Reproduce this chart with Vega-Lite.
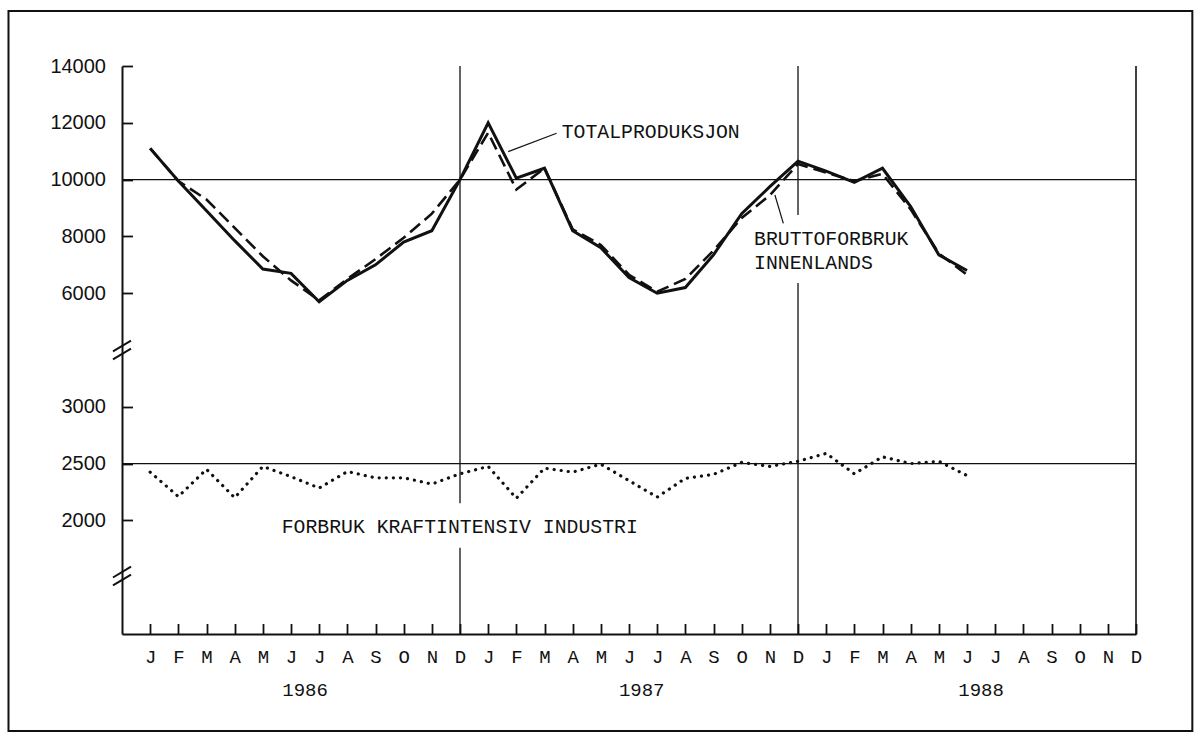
{
  "$schema": "https://vega.github.io/schema/vega-lite/v6.json",
  "width": 1014,
  "height": 568,
  "autosize": {"type": "none"},
  "padding": {"left": 122, "top": 66, "right": 58, "bottom": 105},
  "background": "white",
  "config": {
    "view": {"stroke": null},
    "axis": {"domainColor": "#111", "tickColor": "#111", "labelColor": "#111", "grid": false},
    "axisX": {"tickCount": 36, "labelOverlap": false, "labelFlush": false, "tickSize": -10.5, "labelPadding": 23.5, "tickWidth": 1.8, "domainWidth": 2, "labelFont": "Liberation Mono", "labelFontSize": 19}
  },
  "datasets": {
    "months": [
      {"i": 0, "total": 11100, "brutto": 11100, "industri": 2425},
      {"i": 1, "total": 9950, "brutto": 9950, "industri": 2210},
      {"i": 2, "total": 8900, "brutto": 9300, "industri": 2450},
      {"i": 3, "total": 7850, "brutto": 8300, "industri": 2200},
      {"i": 4, "total": 6850, "brutto": 7300, "industri": 2475},
      {"i": 5, "total": 6700, "brutto": 6450, "industri": 2385},
      {"i": 6, "total": 5700, "brutto": 5750, "industri": 2285},
      {"i": 7, "total": 6450, "brutto": 6500, "industri": 2430},
      {"i": 8, "total": 7000, "brutto": 7200, "industri": 2375},
      {"i": 9, "total": 7800, "brutto": 7950, "industri": 2375},
      {"i": 10, "total": 8200, "brutto": 8800, "industri": 2320},
      {"i": 11, "total": 10000, "brutto": 10000, "industri": 2410},
      {"i": 12, "total": 12000, "brutto": 11650, "industri": 2475},
      {"i": 13, "total": 10050, "brutto": 9650, "industri": 2195},
      {"i": 14, "total": 10400, "brutto": 10400, "industri": 2460},
      {"i": 15, "total": 8200, "brutto": 8250, "industri": 2425},
      {"i": 16, "total": 7600, "brutto": 7700, "industri": 2495},
      {"i": 17, "total": 6550, "brutto": 6650, "industri": 2350},
      {"i": 18, "total": 6000, "brutto": 6050, "industri": 2205},
      {"i": 19, "total": 6200, "brutto": 6500, "industri": 2370},
      {"i": 20, "total": 7350, "brutto": 7500, "industri": 2405},
      {"i": 21, "total": 8800, "brutto": 8650, "industri": 2510},
      {"i": 22, "total": 9750, "brutto": 9450, "industri": 2475},
      {"i": 23, "total": 10650, "brutto": 10550, "industri": 2520},
      {"i": 24, "total": 10300, "brutto": 10250, "industri": 2590},
      {"i": 25, "total": 9900, "brutto": 9950, "industri": 2410},
      {"i": 26, "total": 10400, "brutto": 10200, "industri": 2560},
      {"i": 27, "total": 9050, "brutto": 8950, "industri": 2500},
      {"i": 28, "total": 7350, "brutto": 7400, "industri": 2520},
      {"i": 29, "total": 6800, "brutto": 6650, "industri": 2395}
    ]
  },
  "layer": [
    {
      "layer": [
        {
          "data": {"name": "months"},
          "mark": {"type": "line", "stroke": "#111", "strokeWidth": 2.6, "strokeDash": [13, 6]},
          "encoding": {
            "x": {
              "field": "i", "type": "quantitative",
              "scale": {"domain": [-1, 35], "nice": false, "zero": false},
              "axis": {
                "title": null,
                "values": [0,1,2,3,4,5,6,7,8,9,10,11,12,13,14,15,16,17,18,19,20,21,22,23,24,25,26,27,28,29,30,31,32,33,34,35],
                "labelExpr": "substring('JFMAMJJASOND', datum.value % 12, datum.value % 12 + 1)",
                "tickSize": -10.5, "tickWidth": 1.8, "domainWidth": 2,
                "labelPadding": 23.5, "labelFont": "Liberation Mono", "labelFontSize": 19,
                "labelAngle": 0, "labelFlush": false, "labelOverlap": false, "grid": false
              }
            },
            "y": {
              "field": "brutto", "type": "quantitative",
              "scale": {"domain": [-6000, 14000], "nice": false, "zero": false},
              "axis": {
                "title": null,
                "orient": "left",
                "values": [6000, 8000, 10000, 12000, 14000],
                "format": "d",
                "tickSize": -10.5, "tickWidth": 1.8, "domainWidth": 2,
                "labelPadding": 27, "labelFont": "Liberation Sans", "labelFontSize": 20,
                "labelFlush": false, "labelOverlap": false, "grid": false
              }
            }
          }
        },
        {
          "data": {"values": [{}]},
          "mark": {"type": "rect", "filled": false, "stroke": "#111", "strokeWidth": 2, "clip": false},
          "encoding": {
            "x": {"datum": -5.03, "type": "quantitative"},
            "x2": {"datum": 37.0},
            "y": {"datum": 15937, "type": "quantitative"},
            "y2": {"datum": -9415}
          }
        },
        {
          "data": {"values": [{}]},
          "mark": {"type": "rule", "stroke": "#111", "strokeWidth": 1.3},
          "encoding": {"y": {"datum": 10000, "type": "quantitative"}}
        },
        {
          "data": {"values": [{}]},
          "mark": {"type": "rule", "stroke": "#111", "strokeWidth": 1.3},
          "encoding": {
            "x": {"datum": 23, "type": "quantitative"},
            "y": {"datum": 14000, "type": "quantitative"},
            "y2": {"datum": 8754}
          }
        },
        {
          "data": {"values": [{}]},
          "mark": {"type": "rule", "stroke": "#111", "strokeWidth": 1.3},
          "encoding": {
            "x": {"datum": 23, "type": "quantitative"},
            "y": {"datum": 6359, "type": "quantitative"},
            "y2": {"datum": -6000}
          }
        },
        {
          "data": {"values": [{}]},
          "mark": {"type": "rule", "stroke": "#111", "strokeWidth": 1.6},
          "encoding": {"x": {"datum": 35, "type": "quantitative"}}
        },
        {
          "data": {"name": "months"},
          "mark": {"type": "line", "stroke": "#111", "strokeWidth": 3},
          "encoding": {
            "x": {"field": "i", "type": "quantitative"},
            "y": {"field": "total", "type": "quantitative"}
          }
        },
        {
          "data": {"values": [{}]},
          "mark": {"type": "text", "text": "TOTALPRODUKSJON", "font": "Liberation Mono", "fontSize": 19.8, "align": "left", "baseline": "middle", "color": "#111"},
          "encoding": {
            "x": {"datum": 14.61, "type": "quantitative"},
            "y": {"datum": 11687, "type": "quantitative"}
          }
        },
        {
          "data": {"values": [{}]},
          "mark": {"type": "text", "text": "BRUTTOFORBRUK", "font": "Liberation Mono", "fontSize": 19.8, "align": "left", "baseline": "middle", "color": "#111"},
          "encoding": {
            "x": {"datum": 21.44, "type": "quantitative"},
            "y": {"datum": 7898, "type": "quantitative"}
          }
        },
        {
          "data": {"values": [{}]},
          "mark": {"type": "text", "text": "INNENLANDS", "font": "Liberation Mono", "fontSize": 19.8, "align": "left", "baseline": "middle", "color": "#111"},
          "encoding": {
            "x": {"datum": 21.44, "type": "quantitative"},
            "y": {"datum": 7053, "type": "quantitative"}
          }
        },
        {
          "data": {"values": [{}]},
          "mark": {"type": "rule", "stroke": "#111", "strokeWidth": 1.2},
          "encoding": {
            "x": {"datum": 12.71, "type": "quantitative"},
            "x2": {"datum": 14.43},
            "y": {"datum": 10983, "type": "quantitative"},
            "y2": {"datum": 11630}
          }
        },
        {
          "data": {"values": [{}]},
          "mark": {"type": "rule", "stroke": "#111", "strokeWidth": 1.2},
          "encoding": {
            "x": {"datum": 22.18, "type": "quantitative"},
            "x2": {"datum": 22.48},
            "y": {"datum": 9458, "type": "quantitative"},
            "y2": {"datum": 8461}
          }
        },
        {
          "data": {"values": [{"year": "1986", "m": 5.5}, {"year": "1987", "m": 17.45}, {"year": "1988", "m": 29.5}]},
          "mark": {"type": "text", "font": "Liberation Mono", "fontSize": 19, "align": "center", "baseline": "middle", "dy": 56, "color": "#111", "clip": false},
          "encoding": {
            "x": {"field": "m", "type": "quantitative"},
            "y": {"datum": -6000, "type": "quantitative"},
            "text": {"field": "year"}
          }
        },
        {
          "data": {"values": [{}]},
          "mark": {"type": "rule", "stroke": "#111", "strokeWidth": 2, "clip": false},
          "encoding": {
            "x": {"datum": -1.32, "type": "quantitative"},
            "x2": {"datum": -0.68},
            "y": {"datum": 3950, "type": "quantitative"},
            "y2": {"datum": 4330}
          }
        },
        {
          "data": {"values": [{}]},
          "mark": {"type": "rule", "stroke": "#111", "strokeWidth": 2, "clip": false},
          "encoding": {
            "x": {"datum": -1.32, "type": "quantitative"},
            "x2": {"datum": -0.68},
            "y": {"datum": 3670, "type": "quantitative"},
            "y2": {"datum": 4050}
          }
        },
        {
          "data": {"values": [{}]},
          "mark": {"type": "rule", "stroke": "#111", "strokeWidth": 2, "clip": false},
          "encoding": {
            "x": {"datum": -1.32, "type": "quantitative"},
            "x2": {"datum": -0.68},
            "y": {"datum": -4010, "type": "quantitative"},
            "y2": {"datum": -3630}
          }
        },
        {
          "data": {"values": [{}]},
          "mark": {"type": "rule", "stroke": "#111", "strokeWidth": 2, "clip": false},
          "encoding": {
            "x": {"datum": -1.32, "type": "quantitative"},
            "x2": {"datum": -0.68},
            "y": {"datum": -4290, "type": "quantitative"},
            "y2": {"datum": -3910}
          }
        }
      ]
    },
    {
      "layer": [
        {
          "data": {"name": "months"},
          "mark": {"type": "line", "stroke": "#111", "strokeWidth": 3.2, "strokeDash": [0.1, 7], "strokeCap": "round"},
          "encoding": {
            "x": {
              "field": "i", "type": "quantitative",
              "scale": {"domain": [-1, 35], "nice": false, "zero": false},
              "axis": {
                "title": null,
                "values": [0,1,2,3,4,5,6,7,8,9,10,11,12,13,14,15,16,17,18,19,20,21,22,23,24,25,26,27,28,29,30,31,32,33,34,35],
                "labelExpr": "substring('JFMAMJJASOND', datum.value % 12, datum.value % 12 + 1)",
                "tickSize": -10.5, "tickWidth": 1.8, "domainWidth": 2,
                "labelPadding": 23.5, "labelFont": "Liberation Mono", "labelFontSize": 19,
                "labelAngle": 0, "labelFlush": false, "labelOverlap": false, "grid": false
              }
            },
            "y": {
              "field": "industri", "type": "quantitative",
              "scale": {"domain": [1000, 6000], "nice": false, "zero": false},
              "axis": {
                "title": null,
                "orient": "left",
                "values": [2000, 2500, 3000],
                "format": "d",
                "domain": false,
                "tickSize": -10.5, "tickWidth": 1.8,
                "labelPadding": 27, "labelFont": "Liberation Sans", "labelFontSize": 20,
                "labelFlush": false, "labelOverlap": false, "grid": false
              }
            }
          }
        },
        {
          "data": {"values": [{}]},
          "mark": {"type": "rule", "stroke": "#111", "strokeWidth": 1.3},
          "encoding": {"y": {"datum": 2500, "type": "quantitative"}}
        },
        {
          "data": {"values": [{}]},
          "mark": {"type": "rule", "stroke": "#111", "strokeWidth": 1.3},
          "encoding": {
            "x": {"datum": 11, "type": "quantitative"},
            "y": {"datum": 6000, "type": "quantitative"},
            "y2": {"datum": 2150}
          }
        },
        {
          "data": {"values": [{}]},
          "mark": {"type": "rule", "stroke": "#111", "strokeWidth": 1.3},
          "encoding": {
            "x": {"datum": 11, "type": "quantitative"},
            "y": {"datum": 1760, "type": "quantitative"},
            "y2": {"datum": 1000}
          }
        },
        {
          "data": {"values": [{}]},
          "mark": {"type": "text", "text": "FORBRUK KRAFTINTENSIV INDUSTRI", "font": "Liberation Mono", "fontSize": 19.8, "align": "left", "baseline": "middle", "color": "#111"},
          "encoding": {
            "x": {"datum": 4.67, "type": "quantitative"},
            "y": {"datum": 1942, "type": "quantitative"}
          }
        }
      ]
    }
  ],
  "resolve": {"scale": {"y": "independent"}}
}
